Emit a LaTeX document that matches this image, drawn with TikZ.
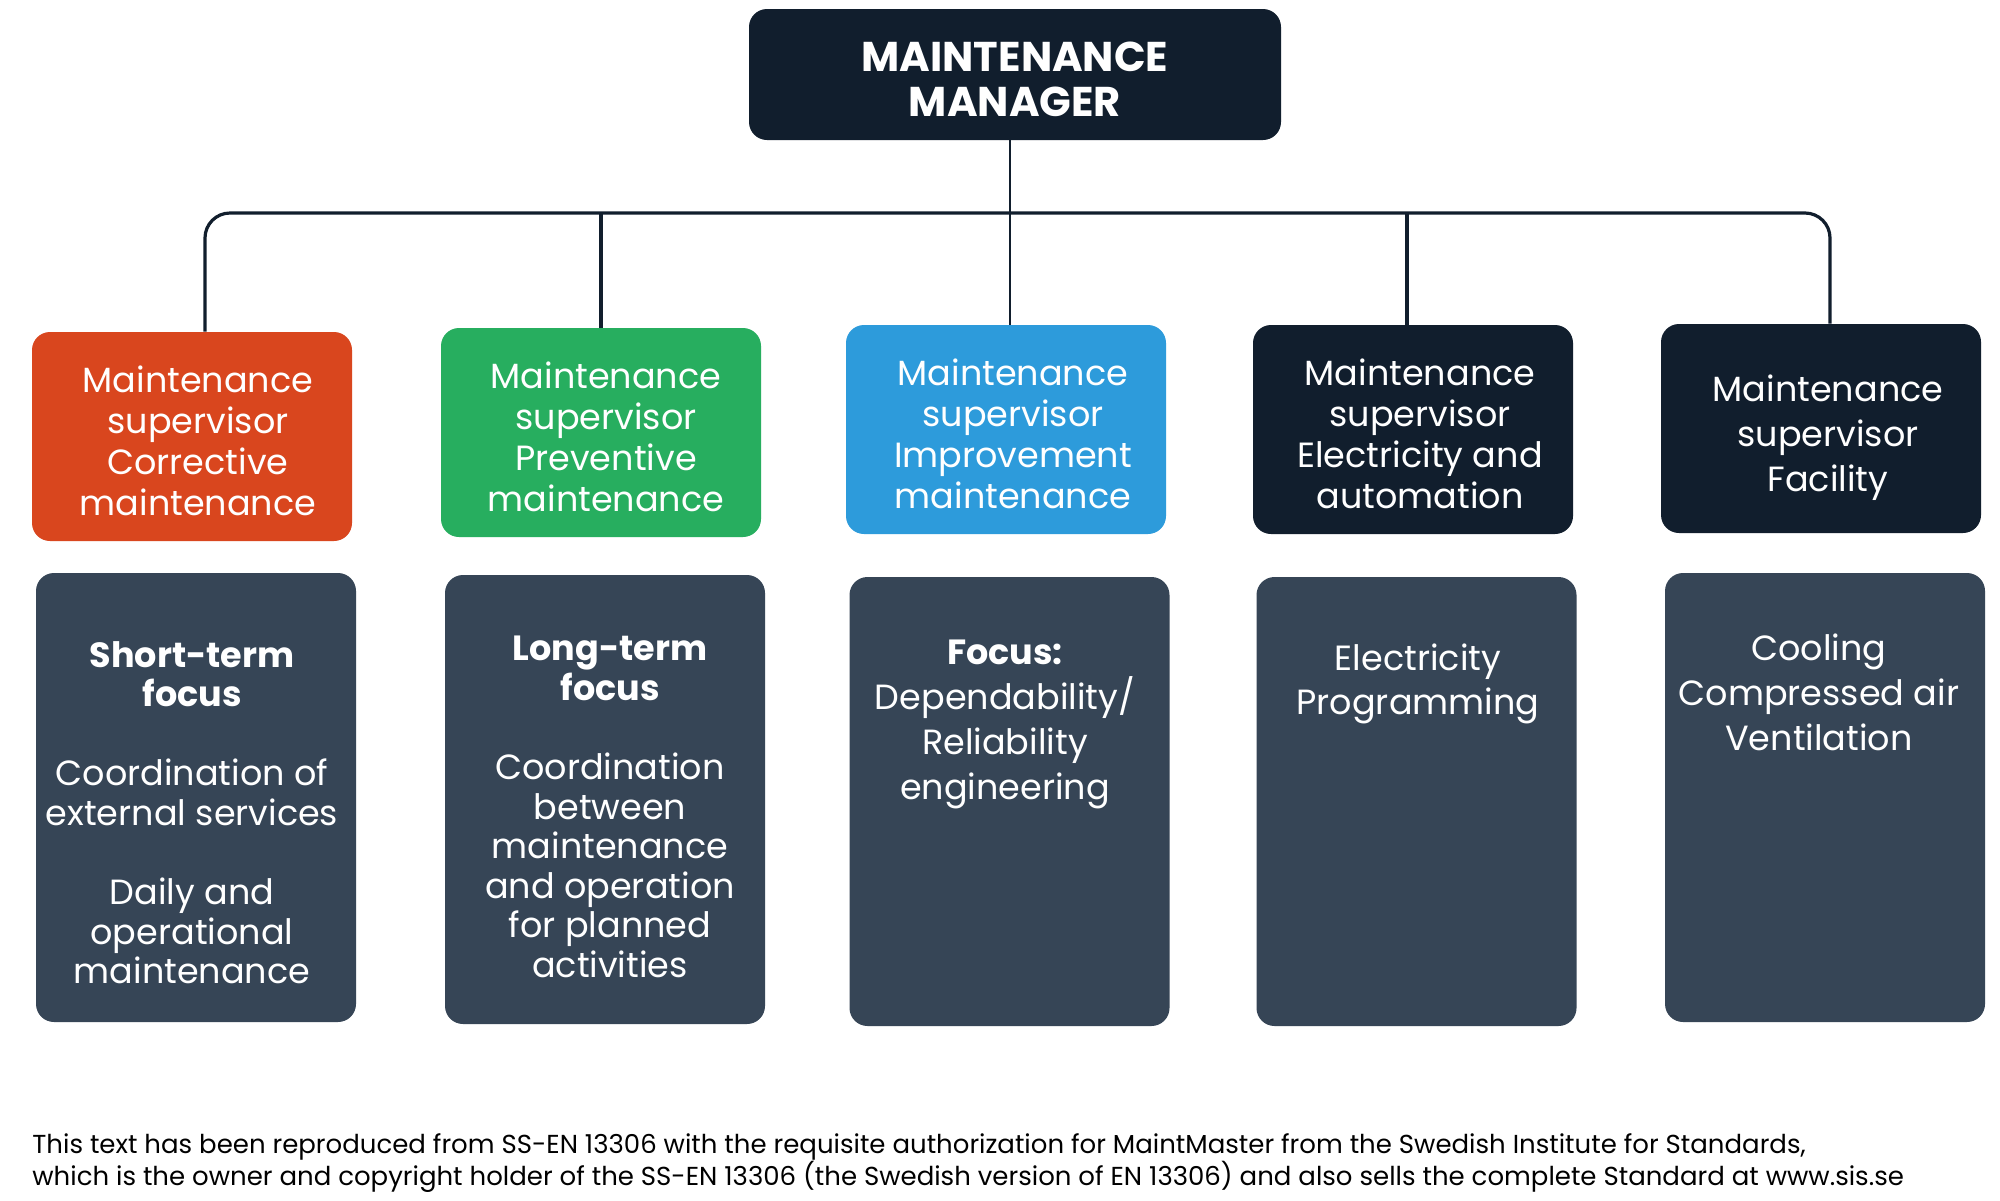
\documentclass[tikz,border=0pt]{standalone}
\usepackage{fontspec}
\setmainfont{Poppins}
\definecolor{navy}{HTML}{111E2D}
\definecolor{slate}{HTML}{364556}
\definecolor{corr}{HTML}{D9461E}
\definecolor{prev}{HTML}{27AE5F}
\definecolor{impr}{HTML}{2D9BDB}
\tikzset{
  supbox/.style={rounded corners=9pt, minimum width=160pt, minimum height=104.5pt, inner sep=0pt},
  suptext/.style={inner sep=0pt, text=white, align=center, font=\fontsize{17.5}{20.5}\selectfont},
  lowbox/.style={rounded corners=9pt, fill=slate, minimum width=160pt, minimum height=224.5pt, inner sep=0pt},
  lowtext/.style={anchor=north, inner sep=0pt, text=white, align=center, font=\fontsize{17.5}{19.8}\selectfont},
  conn/.style={draw=navy, line width=1.6pt},
}
\begin{document}
\begin{tikzpicture}[x=0.5pt,y=-0.5pt]
\useasboundingbox[fill=white] (0,0) rectangle (2000,1200);
% manager
\node[fill=navy, rounded corners=9pt, minimum width=266pt, minimum height=65.5pt, inner sep=0pt] (mgr) at (1015,74.5) {};
\node[inner sep=0pt, text=white, align=center, font=\bfseries\fontsize{20.8}{22.5}\selectfont, yshift=-2.5pt] (mgrt) at (mgr) {MAINTENANCE\\MANAGER};
% supervisors
\node[supbox, fill=corr] (s1) at (192,436.5) {};
\node[supbox, fill=prev] (s2) at (601,432.5) {};
\node[supbox, fill=impr] (s3) at (1006,429.5) {};
\node[supbox, fill=navy] (s4) at (1413,429.5) {};
\node[supbox, fill=navy] (s5) at (1821,428.5) {};
\node[suptext, xshift=3pt, yshift=-2pt] (st1) at (s1) {Maintenance\\supervisor\\Corrective\\maintenance};
\node[suptext, xshift=2.5pt, yshift=-2pt] (st2) at (s2) {Maintenance\\supervisor\\Preventive\\maintenance};
\node[suptext, xshift=3.5pt, yshift=-2pt] (st3) at (s3) {Maintenance\\supervisor\\Improvement\\maintenance};
\node[suptext, xshift=3.5pt, yshift=-2pt] (st4) at (s4) {Maintenance\\supervisor\\Electricity and\\automation};
\node[suptext, xshift=3.5pt, yshift=-4.5pt, font=\fontsize{17.5}{22.5}\selectfont] (st5) at (s5) {Maintenance\\supervisor\\Facility};
% lower boxes
\node[lowbox] (l1) at (196,797.5) {};
\node[lowbox] (l2) at (605,799.5) {};
\node[lowbox] (l3) at (1009.5,801.5) {};
\node[lowbox] (l4) at (1416.5,801.5) {};
\node[lowbox] (l5) at (1825,797.5) {};
\node[lowtext] (t1) at (192,641) {\textbf{Short-term}\\\textbf{focus}\\[19.7pt]Coordination of\\external services\\[19.7pt]Daily and\\operational\\maintenance};
\node[lowtext] (t2) at (610,636) {\textbf{Long-term}\\\textbf{focus}\\[19.7pt]Coordination\\between\\maintenance\\and operation\\for planned\\activities};
\node[lowtext, font=\fontsize{17.5}{22.5}\selectfont] (t3) at (1005,640) {\textbf{Focus:}\\Dependability/\\Reliability\\engineering};
\node[lowtext, font=\fontsize{17.5}{22.3}\selectfont] (t4) at (1418,643) {Electricity\\Programming};
\node[lowtext, font=\fontsize{17.5}{22.5}\selectfont] (t5) at (1819,633) {Cooling\\Compressed air\\Ventilation};
% connectors
\coordinate (c1) at (205,213);
\coordinate (c2) at (601,213);
\coordinate (c3) at (1010,213);
\coordinate (c4) at (1407,213);
\coordinate (c5) at (1830,213);
\draw[conn, rounded corners=12.5pt] (c1 |- s1.north) -- (c1) -- (c5) -- (c5 |- s5.north);
\draw[conn] (c2) -- (c2 |- s2.north);
\draw[conn] (c4) -- (c4 |- s4.north);
\draw[conn, line width=1.3pt] (c3 |- mgr.south) -- (c3 |- s3.north);
% footer
\node[anchor=north west, inner sep=0pt, align=left, text=black, font=\fontsize{13}{16}\selectfont] (foot) at (32,1133)
 {This text has been reproduced from SS-EN 13306 with the requisite authorization for MaintMaster from the Swedish Institute for Standards,\\which is the owner and copyright holder of the SS-EN 13306 (the Swedish version of EN 13306) and also sells the complete Standard at www.sis.se};
\end{tikzpicture}
\end{document}
